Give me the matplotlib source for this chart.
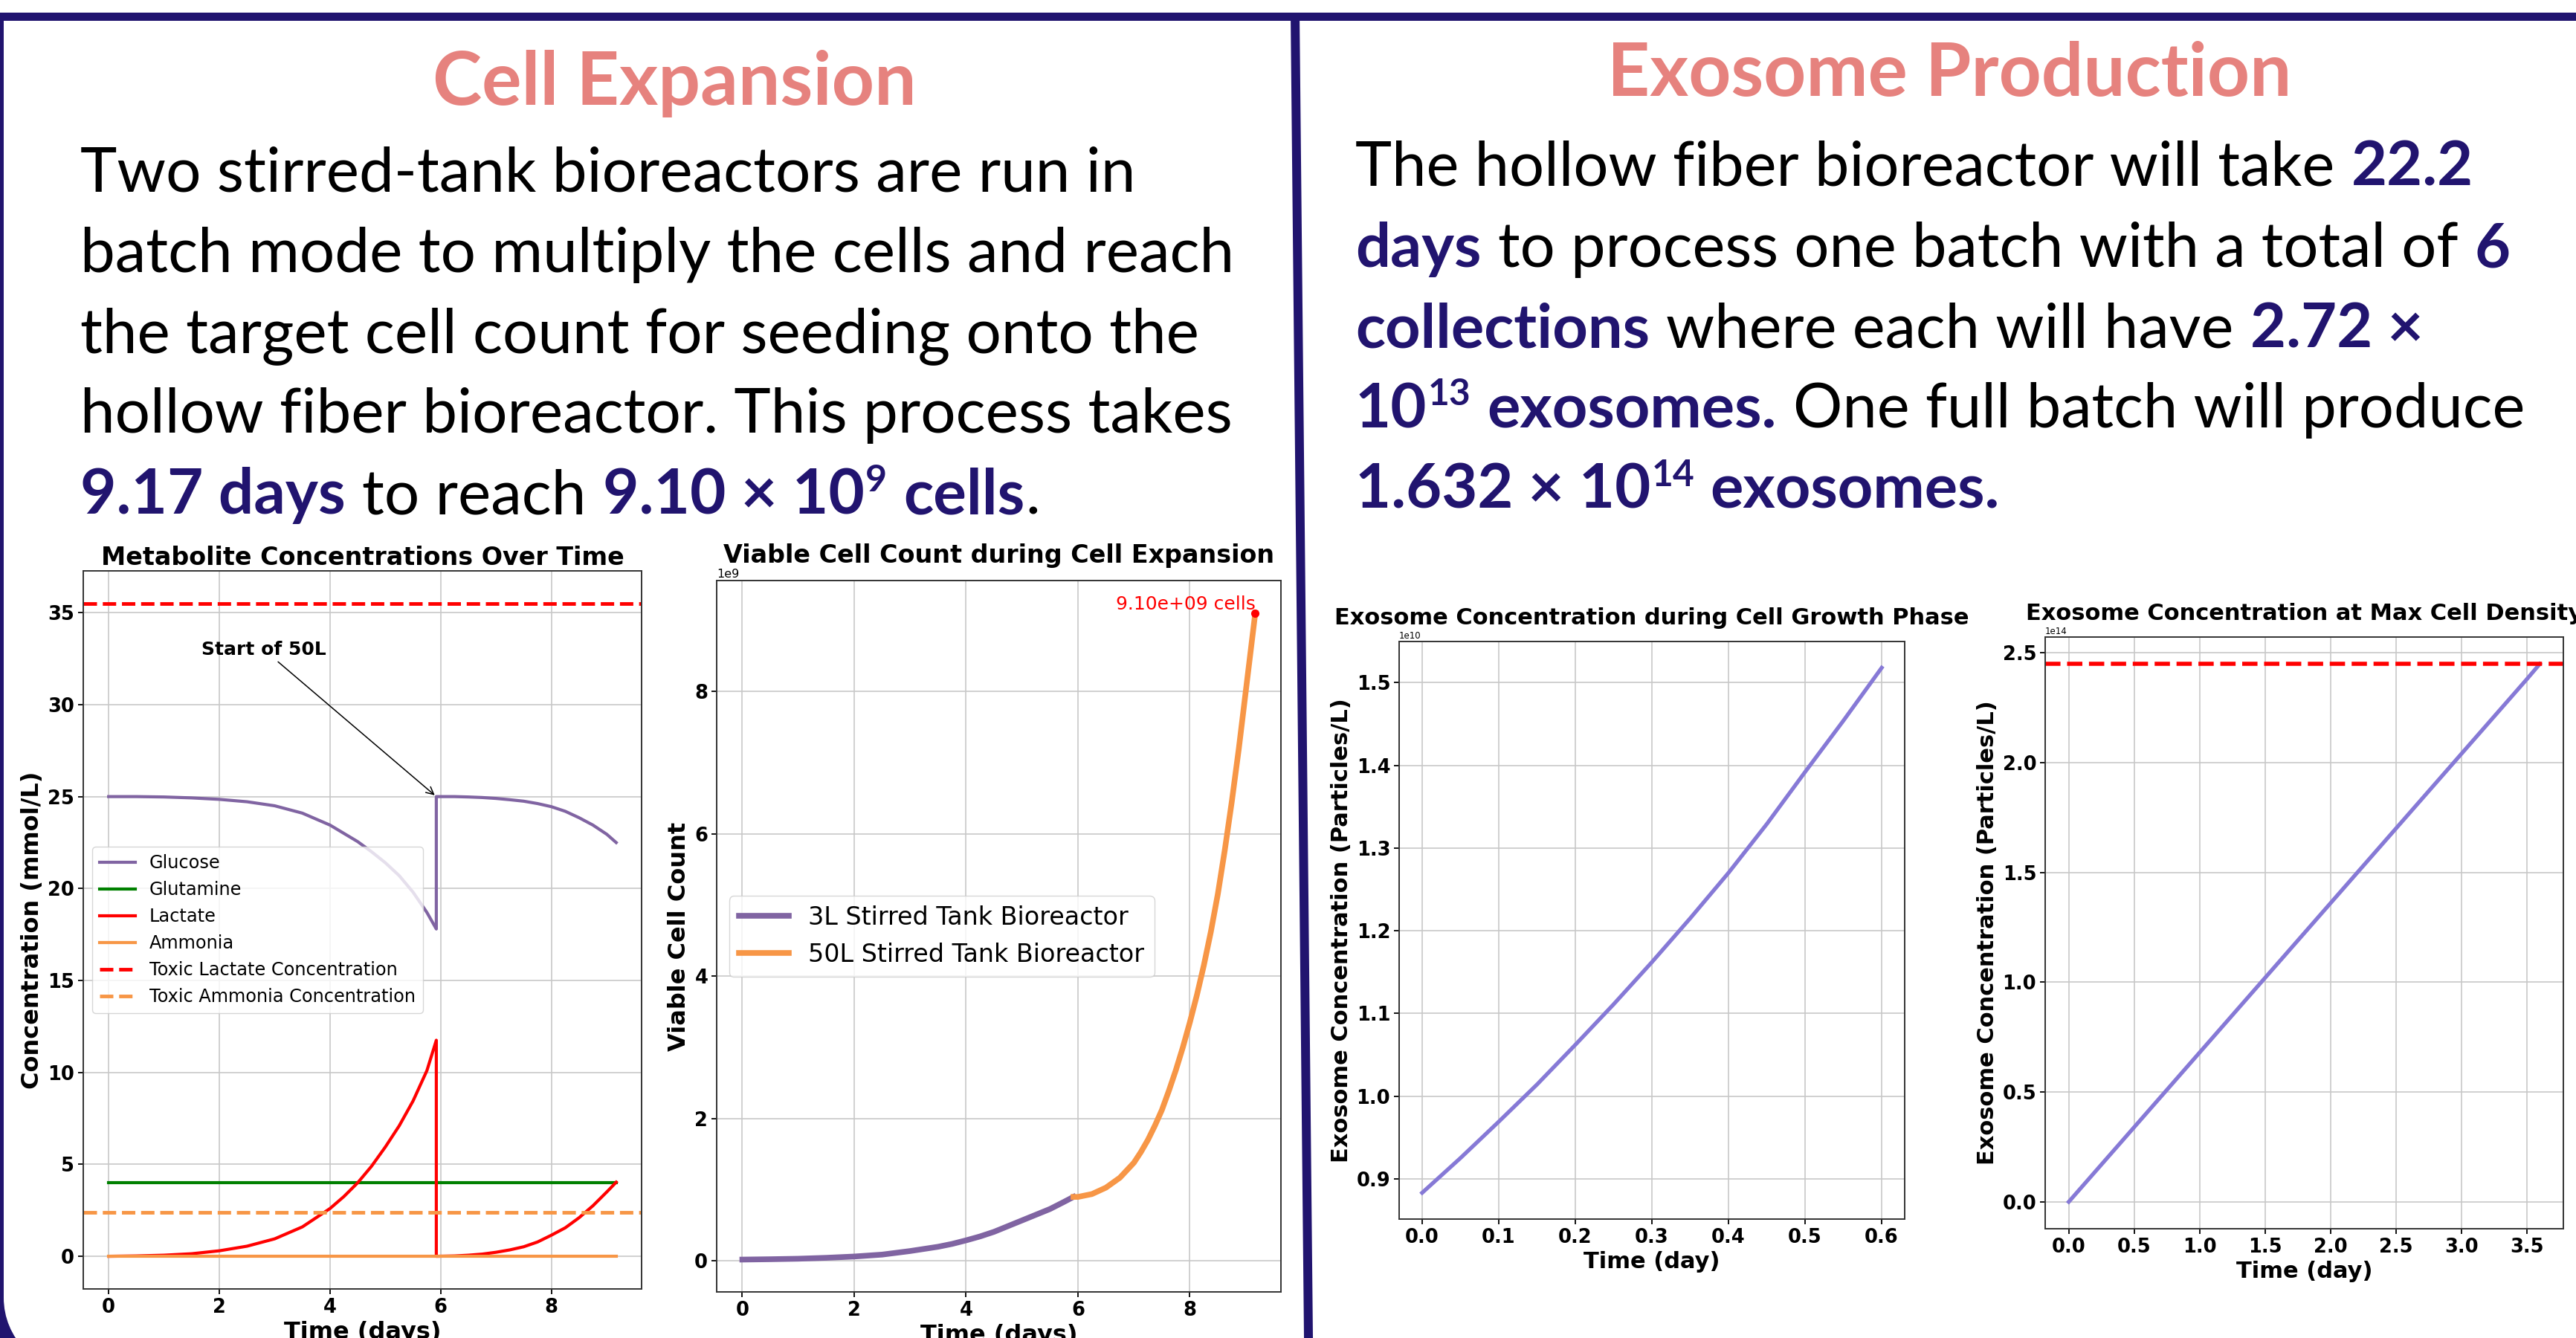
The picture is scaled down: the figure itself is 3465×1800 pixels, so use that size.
import matplotlib
matplotlib.use('Agg')
import matplotlib.pyplot as plt
import matplotlib.patches as mpatches
import numpy as np

W, H, DPI = 3466, 1800, 100
NAVY   = '#21146f'
SALMON = '#e6827e'
PURPLE = '#8064a2'
ORANGE = '#f79646'
GREEN  = '#008000'
RED    = '#ff0000'
EXO    = '#8679d6'
FONT   = 'Lato'

# ---------- data ----------
met_t = [0, 0.5, 1, 1.5, 2, 2.5, 3, 3.5, 4, 4.25, 4.5, 4.75, 5, 5.25, 5.5, 5.75, 5.92,
         5.92, 6.25, 6.5, 6.75, 7, 7.25, 7.5, 7.75, 8, 8.25, 8.5, 8.75, 9, 9.17]
glucose = [25.0, 25.0, 24.98, 24.93, 24.85, 24.72, 24.5, 24.1, 23.45, 23.0, 22.55, 22.0,
           21.4, 20.7, 19.8, 18.7, 17.8,
           25.0, 25.0, 24.98, 24.95, 24.9, 24.83, 24.75, 24.62, 24.45, 24.2, 23.85, 23.45,
           22.95, 22.5]
glutamine = [4.0] * 31
lactate = [0.0, 0.02, 0.06, 0.14, 0.3, 0.55, 0.95, 1.6, 2.6, 3.25, 4.0, 4.9, 5.95, 7.1,
           8.45, 10.1, 11.75,
           0.0, 0.02, 0.06, 0.12, 0.22, 0.35, 0.52, 0.78, 1.15, 1.55, 2.1, 2.75, 3.5, 4.03]
ammonia = [0.0] * 31
toxic_lactate = 35.5
toxic_ammonia = 2.4

cell_t_3L = [0, 0.5, 1, 1.5, 2, 2.5, 3, 3.5, 3.75, 4, 4.25, 4.5, 4.75, 5, 5.25, 5.5,
             5.75, 5.92]
cells_3L = [0.02, 0.025, 0.032, 0.045, 0.063, 0.09, 0.14, 0.2, 0.24, 0.29, 0.345, 0.41,
            0.49, 0.57, 0.65, 0.73, 0.83, 0.9]
cell_t_50L = [5.92, 6.0, 6.25, 6.5, 6.75, 7.0, 7.125, 7.25, 7.375, 7.5, 7.625, 7.75,
              7.875, 8.0, 8.125, 8.25, 8.375, 8.5, 8.625, 8.75, 8.875, 9.0, 9.085, 9.17]
cells_50L = [0.9, 0.9, 0.94, 1.03, 1.17, 1.38, 1.53, 1.7, 1.9, 2.12, 2.39, 2.68, 3.0,
             3.35, 3.73, 4.15, 4.62, 5.15, 5.77, 6.45, 7.19, 8.0, 8.55, 9.1]

growth_t = [0, 0.05, 0.1, 0.15, 0.2, 0.25, 0.3, 0.35, 0.4, 0.45, 0.5, 0.55, 0.6]
growth_exo = [0.883, 0.925, 0.969, 1.014, 1.062, 1.111, 1.162, 1.215, 1.270, 1.329,
              1.392, 1.454, 1.518]

max_t = [0, 0.5, 1.0, 1.5, 2.0, 2.5, 3.0, 3.5, 3.6]
max_exo = [0.0, 0.34, 0.68, 1.02, 1.36, 1.70, 2.04, 2.38, 2.45]
max_limit = 2.45

left_lines = [
    [("Two stirred-tank bioreactors are run in", 'n')],
    [("batch mode to multiply the cells and reach", 'n')],
    [("the target cell count for seeding onto the", 'n')],
    [("hollow fiber bioreactor. This process takes", 'n')],
    [("9.17 days", 'b'), (" to reach ", 'n'), ("9.10 \u00d7 10", 'b'), ("9", 'sup'),
     (" cells", 'b'), (".", 'n')],
]
right_lines = [
    [("The hollow fiber bioreactor will take ", 'n'), ("22.2", 'b')],
    [("days", 'b'), (" to process one batch with a total of ", 'n'), ("6", 'b')],
    [("collections", 'b'), (" where each will have ", 'n'), ("2.72 \u00d7", 'b')],
    [("10", 'b'), ("13", 'sup'), (" exosomes.", 'b'), (" One full batch will produce", 'n')],
    [("1.632 \u00d7 10", 'b'), ("14", 'sup'), (" exosomes.", 'b')],
]

fig = plt.figure(figsize=(W / DPI, H / DPI), dpi=DPI)
fig.patch.set_facecolor('white')
renderer = fig.canvas.get_renderer()

# ---------- poster frame (pixel coordinates) ----------
bg = fig.add_axes([0, 0, 1, 1], zorder=-1)
bg.set_xlim(0, W)
bg.set_ylim(H, 0)
bg.axis('off')
bg.add_patch(mpatches.Rectangle((0, 17), W, 11, color=NAVY, lw=0))
bg.add_patch(mpatches.Rectangle((0, 1746), 104, 60, color=NAVY, lw=0))
bg.add_patch(mpatches.Circle((104, 1746), 99, color='white', lw=0))
bg.add_patch(mpatches.Rectangle((0, 17), 5, H, color=NAVY, lw=0))
bg.add_patch(mpatches.Polygon([(1736, 17), (1748, 17), (1766, H), (1754, H)],
                              closed=True, color=NAVY, lw=0))


def style(kind, fs):
    if kind == 'n':
        return dict(fontsize=fs, color='black', fontweight='normal')
    if kind == 'b':
        return dict(fontsize=fs, color=NAVY, fontweight='bold')
    return dict(fontsize=fs * 0.6, color=NAVY, fontweight='bold')


def width_of(s, st):
    t = bg.text(0, 0, s, family=FONT, **st)
    w = t.get_window_extent(renderer).width
    t.remove()
    return w


def rich(x, y, parts, fs, keep=True):
    cur = x
    made = []
    for s, kind in parts:
        st = style(kind, fs)
        sp = width_of('a a', st) - width_of('aa', st)
        body = s.strip(' ')
        cur += (len(s) - len(s.lstrip(' '))) * sp
        yy = y - (0.36 * fs / 0.72 if kind == 'sup' else 0)
        t = bg.text(cur, yy, body, family=FONT, va='baseline', ha='left', **st)
        cur += t.get_window_extent(renderer).width + fs * 0.02
        cur += (len(s) - len(s.rstrip(' '))) * sp
        made.append(t)
    if not keep:
        for t in made:
            t.remove()
    return cur - x


def block(x, baselines, lines, ref_line, target_w):
    fs = 57 * target_w / rich(x, 0, lines[ref_line], 57, keep=False)
    for y, parts in zip(baselines, lines):
        rich(x, y, parts, fs)


block(108, [257, 366, 474, 582, 691], left_lines, 1, 1555)
block(1823, [250, 359, 467, 575, 684], right_lines, 3, 1574)


def title(xc, y, s, target_w):
    t = bg.text(xc, y, s, family=FONT, fontweight='bold', fontsize=64, color=SALMON,
                ha='center', va='baseline')
    w = t.get_window_extent(renderer).width
    t.set_fontsize(64 * target_w / w)


title(907, 141, 'Cell Expansion', 650)
title(2622, 129, 'Exosome Production', 920)


# ---------- charts ----------
def frame(rect, tick_fs=18.5):
    ax = fig.add_axes([rect[0] / W, 1 - rect[3] / H, (rect[2] - rect[0]) / W,
                       (rect[3] - rect[1]) / H])
    ax.grid(True, color='#c8c8c8', lw=1.2)
    ax.set_axisbelow(True)
    for s in ax.spines.values():
        s.set_linewidth(1.4)
        s.set_color('#333333')
    ax.tick_params(labelsize=tick_fs, width=1.3, length=5)
    return ax


def bold_ticks(ax):
    for lbl in ax.get_xticklabels() + ax.get_yticklabels():
        lbl.set_fontweight('bold')


# Chart 1: metabolites
ax1 = frame((112, 768, 863, 1734))
ax1.plot(met_t, glucose, color=PURPLE, lw=3, label='Glucose')
ax1.plot(met_t, glutamine, color=GREEN, lw=3, label='Glutamine')
ax1.plot(met_t, lactate, color=RED, lw=3, label='Lactate')
ax1.plot(met_t, ammonia, color=ORANGE, lw=3, label='Ammonia')
ax1.axhline(toxic_lactate, color=RED, ls='--', lw=3.5, label='Toxic Lactate Concentration')
ax1.axhline(toxic_ammonia, color=ORANGE, ls='--', lw=3.5, label='Toxic Ammonia Concentration')
ax1.annotate('Start of 50L', xy=(met_t[16], glucose[17]), xytext=(2.8, 33.0),
             ha='center', va='center', fontsize=18, fontweight='bold',
             arrowprops=dict(arrowstyle='->', color='black', lw=1.1))
ax1.set_title('Metabolite Concentrations Over Time', fontsize=24, fontweight='bold')
ax1.set_xlabel('Time (days)', fontsize=23, fontweight='bold')
ax1.set_ylabel('Concentration (mmol/L)', fontsize=23, fontweight='bold')
ax1.legend(loc='center left', fontsize=17.3)
bold_ticks(ax1)

# Chart 2: viable cell count
ax2 = frame((964, 781, 1723, 1738))
ax2.plot(cell_t_3L, np.array(cells_3L) * 1e9, color=PURPLE, lw=5.5,
         label='3L Stirred Tank Bioreactor')
ax2.plot(cell_t_50L, np.array(cells_50L) * 1e9, color=ORANGE, lw=5.5,
         label='50L Stirred Tank Bioreactor')
ax2.plot(cell_t_50L[-1], cells_50L[-1] * 1e9, 'o', color=RED, ms=7)
ax2.text(cell_t_50L[-1], cells_50L[-1] * 1e9, f'{cells_50L[-1] * 1e9:.2e} cells',
         color=RED, fontsize=18, ha='right', va='bottom')
ax2.set_title('Viable Cell Count during Cell Expansion', fontsize=24, fontweight='bold')
ax2.set_xlabel('Time (days)', fontsize=23, fontweight='bold')
ax2.set_ylabel('Viable Cell Count', fontsize=23, fontweight='bold')
ax2.legend(loc='center left', fontsize=24)
ax2.yaxis.get_offset_text().set_fontsize(11.5)
bold_ticks(ax2)

# Chart 3: exosomes during growth phase
ax3 = frame((1882, 863, 2562, 1640))
ax3.plot(growth_t, np.array(growth_exo) * 1e10, color=EXO, lw=3.8)
ax3.set_title('Exosome Concentration during Cell Growth Phase', fontsize=22, fontweight='bold')
ax3.set_xlabel('Time (day)', fontsize=22, fontweight='bold')
ax3.set_ylabel('Exosome Concentration (Particles/L)', fontsize=22, fontweight='bold')
ax3.yaxis.get_offset_text().set_fontsize(8.5)
bold_ticks(ax3)

# Chart 4: exosomes at max cell density
ax4 = frame((2751, 857, 3448, 1653))
ax4.plot(max_t, np.array(max_exo) * 1e14, color=EXO, lw=3.8)
ax4.axhline(max_limit * 1e14, color=RED, ls='--', lw=4)
ax4.set_title('Exosome Concentration at Max Cell Density', fontsize=22, fontweight='bold')
ax4.set_xlabel('Time (day)', fontsize=22, fontweight='bold')
ax4.set_ylabel('Exosome Concentration (Particles/L)', fontsize=22, fontweight='bold')
ax4.yaxis.get_offset_text().set_fontsize(8.5)
bold_ticks(ax4)

fig.savefig('out.png', dpi=DPI, facecolor='white')
